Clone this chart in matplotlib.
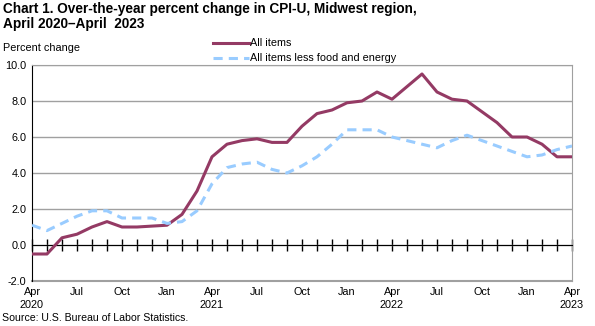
import matplotlib
matplotlib.use("Agg")
import matplotlib.pyplot as plt
import matplotlib.transforms as mtransforms

plt.rcParams['font.family'] = ['Liberation Sans', 'DejaVu Sans']

# monthly data, Apr 2020 - Apr 2023
months = list(range(37))
all_items = [-0.5, -0.5, 0.4, 0.6, 1.0, 1.3, 1.0, 1.0, 1.05, 1.1, 1.7, 3.0,
             4.9, 5.6, 5.8, 5.9, 5.7, 5.7, 6.6, 7.3, 7.5, 7.9, 8.0, 8.5,
             8.1, 8.8, 9.5, 8.5, 8.1, 8.0, 7.4, 6.8, 6.0, 6.0, 5.6, 4.9, 4.9]
core = [1.1, 0.8, 1.2, 1.6, 1.9, 1.9, 1.5, 1.5, 1.5, 1.2, 1.3, 1.9,
        3.4, 4.3, 4.5, 4.6, 4.2, 4.0, 4.4, 4.9, 5.6, 6.4, 6.4, 6.4,
        6.0, 5.8, 5.6, 5.4, 5.8, 6.1, 5.8, 5.5, 5.2, 4.9, 5.0, 5.3, 5.5]
tick_pos = list(range(0, 37, 3))
tick_labels = ['Apr\n2020', 'Jul', 'Oct', 'Jan', 'Apr\n2021', 'Jul', 'Oct', 'Jan',
               'Apr\n2022', 'Jul', 'Oct', 'Jan', 'Apr\n2023']
yticks = [-2, 0, 2, 4, 6, 8, 10]

fig = plt.figure(figsize=(5.95, 3.26), dpi=100)
ax = fig.add_axes([32 / 595, 1 - 281 / 326, 540 / 595, 216 / 326])

ax.plot(months, all_items, color='#943A64', lw=2.2, label='All items', zorder=3)
ax.plot(months, core, color='#99CCFF', lw=2.2, ls=(0, (3, 2)),
        label='All items less food and energy', zorder=3)

ax.set_xlim(0, 36)
ax.set_ylim(-2, 10)
ax.set_yticks(yticks)
ax.set_yticklabels(['%.1f' % v for v in yticks], fontsize=7.8)
ax.tick_params(axis='y', length=0, pad=4)
ax.grid(axis='y', color='#A0A0A0', lw=1)
ax.set_axisbelow(True)

for s in ['top', 'right']:
    ax.spines[s].set_color('#A0A0A0')
ax.spines['left'].set_color('black')
ax.spines['bottom'].set_position(('data', 0))
ax.spines['bottom'].set_color('black')
ax.axhline(-2, color='#A0A0A0', lw=1.5, clip_on=False)

ax.set_xticks(months)
ax.tick_params(axis='x', direction='inout', length=9, width=1, labelbottom=False)

trans = mtransforms.blended_transform_factory(ax.transData, ax.transAxes)
for p, lab in zip(tick_pos, tick_labels):
    ax.text(p, -0.03, lab, transform=trans, ha='center', va='top', fontsize=7.8,
            linespacing=1.3)

fig.text(0.005, 0.995, 'Chart 1. Over-the-year percent change in CPI-U, Midwest region,\nApril 2020\u2013April  2023',
         ha='left', va='top', fontsize=9.8, fontweight='bold', linespacing=1.1)
fig.text(0.005, 1 - 48 / 326, 'Percent change', ha='left', va='center', fontsize=7.8)
fig.text(0.003, 0.008, 'Source: U.S. Bureau of Labor Statistics.', ha='left', va='bottom',
         fontsize=7.6)

ax.legend(loc='lower left', bbox_to_anchor=(175 / 540, 0.98), frameon=False,
          fontsize=7.8, handlelength=3.3, handletextpad=0.15, labelspacing=0.45,
          borderpad=0.05)

fig.savefig('out.png', dpi=100)
